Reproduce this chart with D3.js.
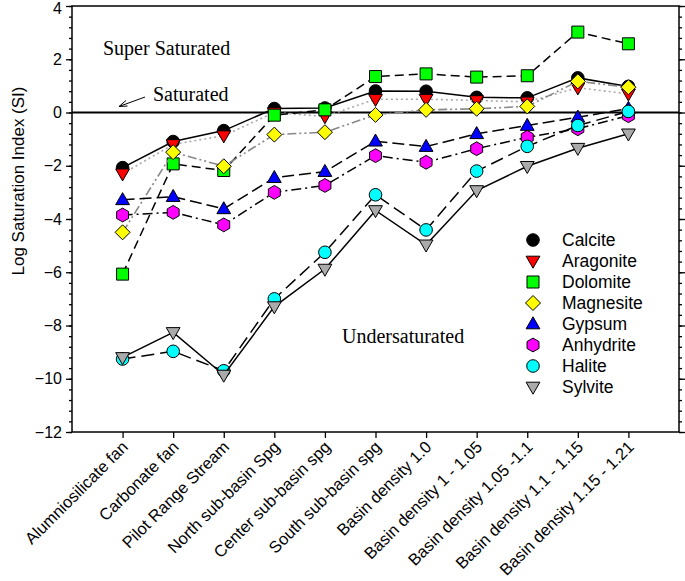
<!DOCTYPE html>
<html>
<head>
<meta charset="utf-8">
<script src="https://cdn.jsdelivr.net/npm/d3@7"></script>
<style>
  body { margin: 0; background: #fff; }
  svg { display: block; }
  .axis text { font-family: "Liberation Sans", Arial, sans-serif; font-size: 16px; fill: #000; }
  .note { font-family: "Liberation Serif", "Times New Roman", serif; font-size: 20px; fill: #000; }
  .legend text { font-family: "Liberation Sans", Arial, sans-serif; font-size: 17.5px; fill: #000; }
</style>
</head>
<body>
<div id="chart"></div>
<script>
// chart size and plot box
const width = 685, height = 581;
const plot = {left: 72, right: 679, top: 6, bottom: 432};

// data
const sites = ["Alumniosilicate fan", "Carbonate fan", "Pilot Range Stream", "North sub-basin Spg",
  "Center sub-basin spg", "South sub-basin spg", "Basin density 1.0", "Basin density 1 - 1.05",
  "Basin density 1.05 -1.1", "Basin density  1.1 - 1.15", "Basin density 1.15 - 1.21"];

const calcite    = [-2.07, -1.09, -0.68, 0.15, 0.17, 0.81, 0.80, 0.57, 0.55, 1.30, 0.98];
const aragonite  = [-2.30, -1.20, -0.87, 0.00, -0.15, 0.50, 0.50, 0.45, 0.40, 0.93, 0.70];
const dolomite   = [-6.07, -1.93, -2.18, -0.10, 0.10, 1.35, 1.45, 1.33, 1.38, 3.02, 2.58];
const magnesite  = [-4.50, -1.49, -2.02, -0.83, -0.74, -0.09, 0.10, 0.14, 0.23, 1.17, 0.95];
const gypsum     = [-3.28, -3.16, -3.62, -2.45, -2.22, -1.08, -1.28, -0.80, -0.49, -0.18, 0.15];
const anhydrite  = [-3.85, -3.75, -4.22, -3.00, -2.74, -1.62, -1.87, -1.36, -0.93, -0.61, -0.12];
const halite     = [-9.26, -8.97, -9.70, -7.00, -5.25, -3.09, -4.41, -2.20, -1.27, -0.49, 0.04];
const sylvite    = [-9.20, -8.26, -9.86, -7.29, -5.88, -3.68, -4.97, -2.93, -2.02, -1.34, -0.80];

const seriesNames = ["Calcite", "Aragonite", "Dolomite", "Magnesite", "Gypsum", "Anhydrite", "Halite", "Sylvite"];
const seriesValues = [calcite, aragonite, dolomite, magnesite, gypsum, anhydrite, halite, sylvite];

const yTicks = [4, 2, 0, -2, -4, -6, -8, -10, -12];

// styles for each series
const fills  = ["#000000", "#ff0000", "#00ff00", "#ffff00", "#0000ff", "#ff00ff", "#00ffff", "#aaaaaa"];
const shapes = ["circle", "down", "square", "diamond", "up", "hex", "circle", "down"];
const dashes = [null, "2,3", "9,5", "9,3,2,3,2,3", "12,5", "10,4,2,4", "13,6", null];
const lineColors = ["#000", "#aaa", "#000", "#888", "#000", "#000", "#000", "#000"];

const svg = d3.select("#chart").append("svg")
  .attr("width", width)
  .attr("height", height);

// scales
const xScale = d3.scaleLinear().domain([-1, 11]).range([plot.left, plot.right]);
const yScale = d3.scaleLinear().domain([-12, 4]).range([plot.bottom, plot.top]);

// marker path by shape name
function markerPath(shape, s) {
  switch (shape) {
    case "circle":
      return d3.symbol().type(d3.symbolCircle).size(Math.PI * 6.3 * 6.3)();
    case "square":
      return `M${-s},${-s}H${s}V${s}H${-s}Z`;
    case "diamond":
      return `M0,${-s * 1.25}L${s * 1.25},0L0,${s * 1.25}L${-s * 1.25},0Z`;
    case "up":
      return `M0,${-s * 1.2}L${s * 1.15},${s * 0.8}L${-s * 1.15},${s * 0.8}Z`;
    case "down":
      return `M0,${s * 1.2}L${s * 1.15},${-s * 0.8}L${-s * 1.15},${-s * 0.8}Z`;
    case "hex": {
      const pts = d3.range(6).map(i => {
        const a = Math.PI / 6 + i * Math.PI / 3;
        return [s * 1.15 * Math.cos(a), s * 1.15 * Math.sin(a)];
      });
      return "M" + pts.map(p => p.join(",")).join("L") + "Z";
    }
  }
}

// plot frame
svg.append("rect")
  .attr("x", plot.left).attr("y", plot.top)
  .attr("width", plot.right - plot.left).attr("height", plot.bottom - plot.top)
  .attr("fill", "none").attr("stroke", "#000").attr("stroke-width", 1.5);

// y axis with minor ticks, left and right
const minor = d3.range(-12, 4.01, 0.4).map(v => +v.toFixed(1));
svg.append("g")
  .attr("class", "axis")
  .attr("transform", `translate(${plot.left},0)`)
  .call(d3.axisLeft(yScale).tickValues(minor).tickSize(3).tickFormat(""))
  .call(g => g.select(".domain").remove());
const yAxis = svg.append("g")
  .attr("class", "axis")
  .attr("transform", `translate(${plot.left},0)`)
  .call(d3.axisLeft(yScale).tickValues(yTicks).tickSize(6).tickPadding(4).tickFormat(d3.format("d")))
  .call(g => g.select(".domain").remove());
// keep the top label inside the window
yAxis.selectAll(".tick text").filter(d => d == 4).attr("dy", "0.45em");
svg.append("g")
  .attr("transform", `translate(${plot.right},0)`)
  .call(d3.axisRight(yScale).tickValues(minor).tickSize(3).tickFormat(""))
  .call(g => g.select(".domain").remove());
svg.append("g")
  .attr("transform", `translate(${plot.right},0)`)
  .call(d3.axisRight(yScale).tickValues(yTicks).tickSize(6).tickFormat(""))
  .call(g => g.select(".domain").remove());
svg.selectAll(".tick line").attr("stroke-width", 1.3);

// x axis with rotated labels
const xAxis = svg.append("g")
  .attr("class", "axis")
  .attr("transform", `translate(0,${plot.bottom})`)
  .call(d3.axisBottom(xScale).tickValues(d3.range(sites.length)).tickSize(6).tickFormat(i => sites[i]))
  .call(g => g.select(".domain").remove());
xAxis.selectAll(".tick line").attr("stroke-width", 1.3);
xAxis.selectAll(".tick text")
  .style("font-size", "16.5px")
  .attr("text-anchor", "end")
  .attr("dy", null)
  .attr("y", 0)
  .attr("transform", "translate(6,16) rotate(-45)");

// y axis title
svg.append("text")
  .attr("class", "axis")
  .attr("transform", "translate(24,181) rotate(-90)")
  .attr("text-anchor", "middle")
  .style("font-family", "Liberation Sans, Arial, sans-serif")
  .style("font-size", "17px")
  .text("Log Saturation Index (SI)");

// saturation line at 0
svg.append("line")
  .attr("x1", plot.left).attr("x2", plot.right)
  .attr("y1", yScale(0)).attr("y2", yScale(0))
  .attr("stroke", "#000").attr("stroke-width", 2);

// annotations
svg.append("text").attr("class", "note").attr("x", 103).attr("y", 55).text("Super Saturated");
svg.append("text").attr("class", "note").attr("x", 153).attr("y", 101).text("Saturated");
svg.append("text").attr("class", "note").attr("x", 342).attr("y", 343).text("Undersaturated");
svg.append("line")
  .attr("x1", 145).attr("y1", 97).attr("x2", 119).attr("y2", 106.5)
  .attr("stroke", "#000").attr("stroke-width", 1);
svg.append("path")
  .attr("d", "M126,100.5L119,106.5L127.5,106")
  .attr("fill", "none").attr("stroke", "#000").attr("stroke-width", 1);

// series lines and markers
const line = d3.line().x((d, i) => xScale(i)).y(d => yScale(d));

seriesValues.forEach(function(values, k) {
  const g = svg.append("g");
  g.append("path")
    .attr("d", line(values))
    .attr("fill", "none")
    .attr("stroke", lineColors[k])
    .attr("stroke-width", k == 1 || k == 3 ? 1.6 : 1.5)
    .attr("stroke-dasharray", dashes[k]);
  g.selectAll("path.mark")
    .data(values)
    .enter()
    .append("path")
    .attr("class", "mark")
    .attr("transform", (d, i) => `translate(${xScale(i)},${yScale(d)})`)
    .attr("d", markerPath(shapes[k], 6))
    .attr("fill", fills[k])
    .attr("stroke", "#000")
    .attr("stroke-width", 1);
});

// legend
const legend = svg.append("g").attr("class", "legend");
seriesNames.forEach(function(name, k) {
  const y = 240 + k * 21;
  legend.append("path")
    .attr("transform", `translate(533,${y})`)
    .attr("d", markerPath(shapes[k], 6))
    .attr("fill", fills[k])
    .attr("stroke", "#000")
    .attr("stroke-width", 1);
  legend.append("text")
    .attr("x", 562).attr("y", y + 6)
    .text(name);
});
</script>
</body>
</html>
